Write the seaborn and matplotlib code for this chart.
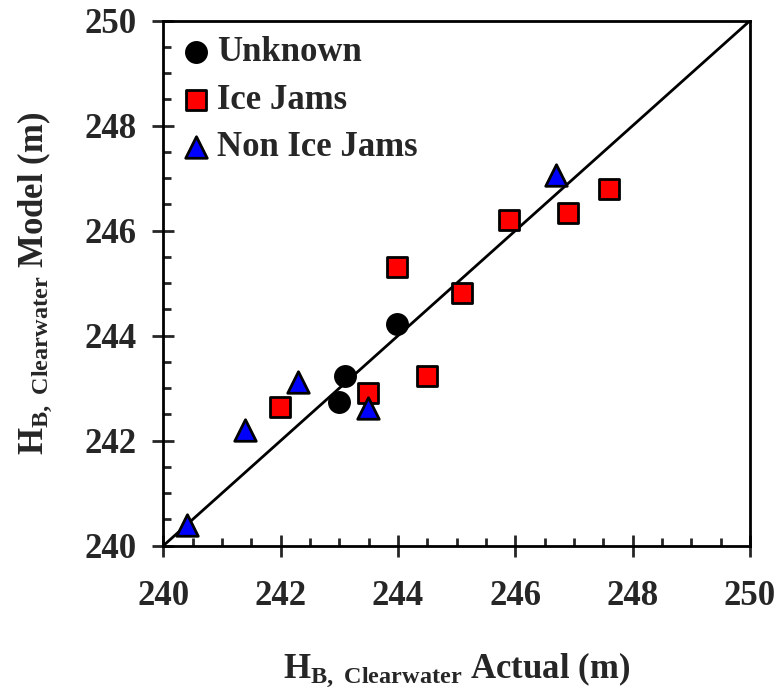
import numpy as np
import pandas as pd
import matplotlib
matplotlib.use("Agg")
import matplotlib.pyplot as plt
import seaborn as sns
from matplotlib.ticker import MultipleLocator

# data (m)
unknown_actual = [242.99, 243.10, 243.99]
unknown_model = [242.73, 243.23, 244.22]

icejam_actual = [241.99, 243.49, 243.99, 244.49, 245.09, 245.89, 246.89, 247.59]
icejam_model = [242.65, 242.91, 245.30, 243.24, 244.82, 246.20, 246.33, 246.79]

nonice_actual = [240.40, 241.40, 242.29, 243.49, 246.69]
nonice_model = [240.39, 242.20, 243.12, 242.62, 247.06]

x_ticks = [240, 242, 244, 246, 248, 250]
y_ticks = [240, 242, 244, 246, 248, 250]

sns.set_style("ticks")
plt.rcParams['font.family'] = ['Liberation Serif', 'DejaVu Serif']
plt.rcParams['font.weight'] = 'bold'
plt.rcParams['mathtext.fontset'] = 'custom'
plt.rcParams['mathtext.rm'] = 'Liberation Serif:bold'
plt.rcParams['mathtext.bf'] = 'Liberation Serif:bold'
plt.rcParams['mathtext.it'] = 'Liberation Serif:bold'

fig = plt.figure(figsize=(7.78, 6.89), dpi=100)
ax = fig.add_axes([163.3 / 778, 1 - 545.7 / 689, (750 - 163.3) / 778, (545.7 - 20.7) / 689])

# 1:1 line
ax.plot([240, 250], [240, 250], color='black', lw=2, zorder=1)

df_unk = pd.DataFrame({'actual': unknown_actual, 'model': unknown_model})
df_ice = pd.DataFrame({'actual': icejam_actual, 'model': icejam_model})
df_non = pd.DataFrame({'actual': nonice_actual, 'model': nonice_model})

sns.scatterplot(data=df_unk, x='actual', y='model', ax=ax, marker='o', color='black',
                edgecolor='black', linewidth=1, s=240, label='Unknown', zorder=3)
sns.scatterplot(data=df_ice, x='actual', y='model', ax=ax, marker='s', color='#ff0000',
                edgecolor='black', linewidth=2, s=210, label='Ice Jams', zorder=3)
sns.scatterplot(data=df_non, x='actual', y='model', ax=ax, marker='^', color='#0000ff',
                edgecolor='black', linewidth=2, s=240, label='Non Ice Jams', zorder=3)

ax.set_xlim(240, 250)
ax.set_ylim(240, 250)
ax.set_xticks(x_ticks)
ax.set_yticks(y_ticks)
ax.xaxis.set_minor_locator(MultipleLocator(0.5))
ax.yaxis.set_minor_locator(MultipleLocator(0.5))
ax.tick_params(which='major', direction='inout', length=16, width=2,
               labelsize=25, top=False, right=False)
ax.tick_params(axis='x', which='major', pad=17)
ax.tick_params(axis='y', which='major', pad=11)
ax.tick_params(which='minor', direction='in', length=6, width=2, top=False, right=False)
for lab in ax.get_xticklabels() + ax.get_yticklabels():
    lab.set_fontweight('bold')

for sp in ax.spines.values():
    sp.set_visible(True)
    sp.set_linewidth(2)
    sp.set_color('black')

ax.set_xlabel(r'$\mathbf{H_{B,\ Clearwater}}$ Actual (m)', fontsize=25, fontweight='bold', labelpad=26)
ax.set_ylabel(r'$\mathbf{H_{B,\ Clearwater}}$ Model (m)', fontsize=25, fontweight='bold', labelpad=22)

leg = ax.legend(loc='upper left', bbox_to_anchor=(0, 1), frameon=False, markerscale=1.0,
                handletextpad=0.1, handlelength=1.0, labelspacing=0.42,
                borderaxespad=0.05, prop={'weight': 'bold', 'size': 25})

fig.savefig('out.png', dpi=100)
